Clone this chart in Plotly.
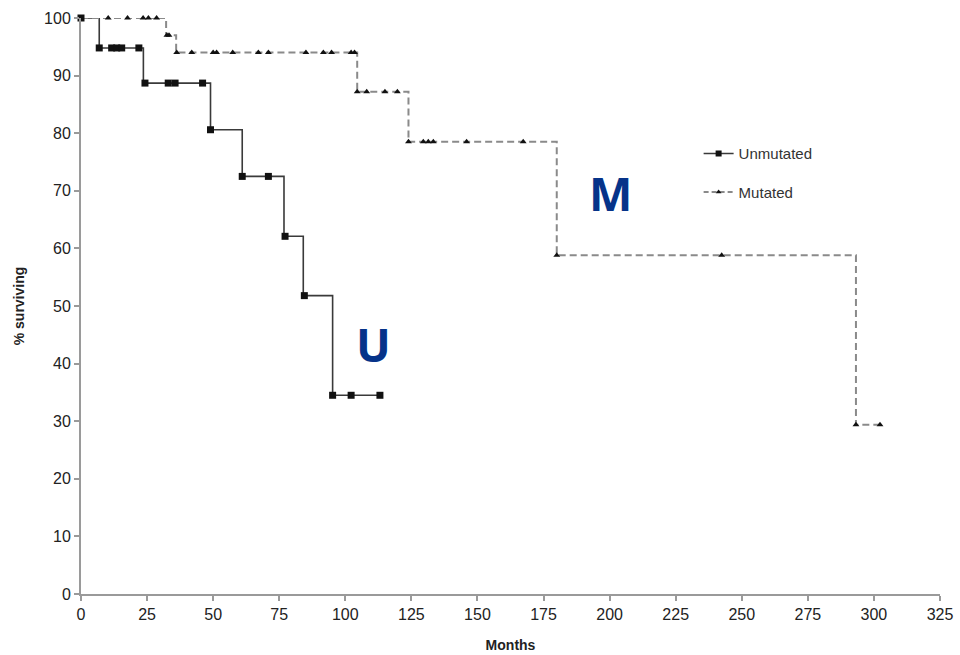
import numpy as np
import plotly.graph_objects as go

# ---- data ----
# Unmutated: Kaplan-Meier step curve
u_step_times = [0, 6.9, 23.6, 49.0, 61.0, 76.8, 84.1, 95.2]
u_step_surv = [100, 94.8, 88.7, 80.6, 72.5, 62.1, 51.8, 34.5]
u_end_time = 113.1
u_censor_times = [0, 6.9, 11.6, 13.5, 15.4, 21.9, 24.2, 33.0, 35.6, 46.0,
                  49.0, 61.0, 70.9, 77.2, 84.5, 95.2, 102.2, 113.1]

# Mutated: Kaplan-Meier step curve
m_step_times = [0, 32.2, 36.0, 104.5, 123.9, 180.0, 293.2]
m_step_surv = [100, 97.0, 94.0, 87.2, 78.5, 58.8, 29.4]
m_end_time = 303.0
m_censor_times = [10.3, 17.6, 23.5, 25.5, 28.6, 32.5, 33.3, 36.2, 41.9, 50.0,
                  51.3, 57.4, 67.1, 70.9, 85.1, 91.7, 94.8, 102.2, 103.5,
                  104.5, 108.1, 115.0, 119.7, 123.9, 129.5, 131.4, 133.3,
                  145.9, 167.3, 180.0, 242.4, 293.2, 302.3]

series_names = ["Unmutated", "Mutated"]
x_ticks = list(range(0, 326, 25))
y_ticks = list(range(0, 101, 10))


def step_xy(times, surv, end):
    return list(times) + [end], list(surv) + [surv[-1]]


def surv_at(times, surv, t):
    idx = np.searchsorted(np.array(times), np.array(t), side="right") - 1
    return [surv[i] for i in idx]


fig = go.Figure()

ux, uy = step_xy(u_step_times, u_step_surv, u_end_time)
mx, my = step_xy(m_step_times, m_step_surv, m_end_time)

# lines
fig.add_trace(go.Scatter(x=ux, y=uy, mode="lines", line_shape="hv",
                         line=dict(color="#3a3a3a", width=1.6),
                         showlegend=False, hoverinfo="skip", cliponaxis=False))
fig.add_trace(go.Scatter(x=mx, y=my, mode="lines", line_shape="hv",
                         line=dict(color="#8a8a8a", width=2, dash="7px,4px"),
                         showlegend=False, hoverinfo="skip", cliponaxis=False))
# censor markers
fig.add_trace(go.Scatter(x=u_censor_times,
                         y=surv_at(u_step_times, u_step_surv, u_censor_times),
                         mode="markers", marker=dict(symbol="square", size=7, color="#111"),
                         showlegend=False, cliponaxis=False))
fig.add_trace(go.Scatter(x=m_censor_times,
                         y=surv_at(m_step_times, m_step_surv, m_censor_times),
                         mode="markers", marker=dict(symbol="triangle-up", size=6, color="#111"),
                         showlegend=False, cliponaxis=False))

# legend entries
fig.add_trace(go.Scatter(x=[None], y=[None], mode="lines+markers", name=series_names[0],
                         legendgroup="u",
                         line=dict(color="#3a3a3a", width=1.6),
                         marker=dict(symbol="square", size=6, color="#111")))
fig.add_trace(go.Scatter(x=[None], y=[None], mode="lines+markers", name=series_names[1],
                         legendgroup="m",
                         line=dict(color="#8a8a8a", width=2, dash="5px,3px"),
                         marker=dict(symbol="triangle-up", size=5, color="#111")))

fig.add_annotation(x=110.5, y=43.4, text="<b>U</b>", showarrow=False,
                   font=dict(family="Open Sans, Arial", size=46, color="#063389"))
fig.add_annotation(x=200.4, y=69.6, text="<b>M</b>", showarrow=False,
                   font=dict(family="Open Sans, Arial", size=46, color="#063389"))

axis_common = dict(showgrid=False, zeroline=False, showline=True, linecolor="#9a9a9a",
                   linewidth=2, ticks="outside", ticklen=5, tickcolor="#9a9a9a",
                   tickwidth=1.5, automargin=False,
                   tickfont=dict(family="Liberation Sans, Arial", size=16, color="#222"))

fig.update_layout(
    width=960, height=655,
    margin=dict(l=81, r=20, t=18, b=61),
    paper_bgcolor="white", plot_bgcolor="white",
    xaxis=dict(range=[0, 325], tickvals=x_ticks, **axis_common,
               title=dict(text="<b>Months</b>", standoff=18,
                          font=dict(family="Liberation Sans, Arial", size=14, color="#222"))),
    yaxis=dict(range=[0, 100], tickvals=y_ticks, **axis_common,
               title=dict(text="<b>% surviving</b>", standoff=16,
                          font=dict(family="Liberation Sans, Arial", size=14, color="#222"))),
    legend=dict(x=0.719, y=0.793, xanchor="left", yanchor="top", tracegroupgap=16,
                bgcolor="rgba(0,0,0,0)",
                font=dict(family="Liberation Sans, Arial", size=15, color="#333")),
)

fig.write_html("out.html", config={"displayModeBar": False},
               post_script="document.body.style.margin='0px';document.body.style.overflow='hidden';")
